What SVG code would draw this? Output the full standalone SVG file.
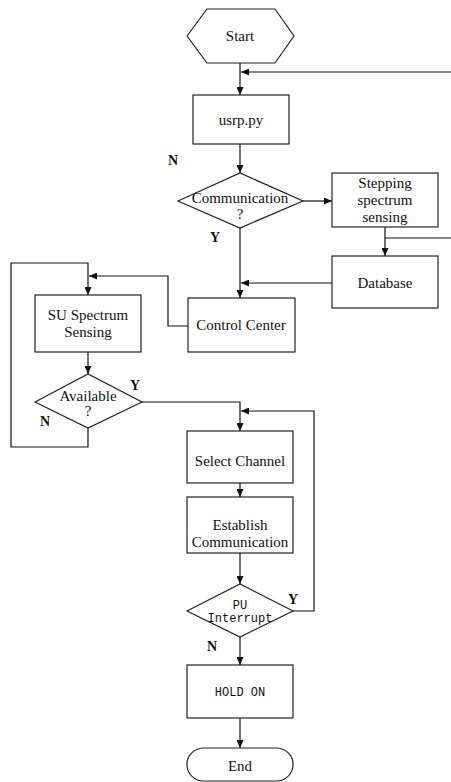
<svg xmlns="http://www.w3.org/2000/svg" width="451" height="782" viewBox="0 0 451 782">
<style>
.s{fill:#fff;stroke:#222;stroke-width:1.2}
.c{fill:none;stroke:#111;stroke-width:1.2}
.t{font-family:"Liberation Serif","Times New Roman",serif;font-size:15px;fill:#111;text-anchor:middle}
.m{font-family:"Liberation Mono","Courier New",monospace;font-size:12px;fill:#111;text-anchor:middle}
.l{font-family:"Liberation Serif","Times New Roman",serif;font-size:14px;font-weight:bold;fill:#111;text-anchor:middle}
</style>
<defs>
<marker id="a" markerWidth="8" markerHeight="7" refX="8" refY="3.5" orient="auto" markerUnits="userSpaceOnUse">
<path d="M0,0 L8,3.5 L0,7 z" fill="#111"/>
</marker>
</defs>
<rect width="451" height="782" fill="#fff"/>
<g id="connectors">
<path class="c" d="M240,63 V95" marker-end="url(#a)"/>
<path class="c" d="M451,72 H241" marker-end="url(#a)"/>
<path class="c" d="M240,144 V173" marker-end="url(#a)"/>
<path class="c" d="M303,201 H332" marker-end="url(#a)"/>
<path class="c" d="M385,227 V256" marker-end="url(#a)"/>
<path class="c" d="M385,238 H451"/>
<path class="c" d="M332,283 H241" marker-end="url(#a)"/>
<path class="c" d="M240,228 V298" marker-end="url(#a)"/>
<path class="c" d="M188,326 H168 V276 H89" marker-end="url(#a)"/>
<path class="c" d="M88,428 V447 H11 V263 H88 V295" marker-end="url(#a)"/>
<path class="c" d="M88,352 V374" marker-end="url(#a)"/>
<path class="c" d="M142,402 H240 V431" marker-end="url(#a)"/>
<path class="c" d="M240,483 V497" marker-end="url(#a)"/>
<path class="c" d="M240,553 V584" marker-end="url(#a)"/>
<path class="c" d="M293,611 H314 V411 H241" marker-end="url(#a)"/>
<path class="c" d="M240,637 V665" marker-end="url(#a)"/>
<path class="c" d="M240,718 V748" marker-end="url(#a)"/>
</g>
<g id="start">
<polygon class="s" points="187,36 207,9 275,9 294,36 275,63 207,63"/>
<text class="t" x="240" y="41">Start</text>
</g>
<g id="usrp">
<rect class="s" x="193" y="95" width="96" height="49"/>
<text class="t" x="241" y="125" font-size="14">usrp.py</text>
</g>
<g id="communication">
<polygon class="s" points="178,201 240,173 303,201 240,228"/>
<text class="t" x="240" y="203">Communication</text>
<text class="t" x="240" y="219" font-size="12">?</text>
</g>
<g id="stepping">
<rect class="s" x="332" y="173" width="106" height="54"/>
<text class="t" x="385" y="188">Stepping</text>
<text class="t" x="385" y="205">spectrum</text>
<text class="t" x="385" y="222">sensing</text>
</g>
<g id="database">
<rect class="s" x="332" y="256" width="106" height="52"/>
<text class="t" x="385" y="288">Database</text>
</g>
<g id="control">
<rect class="s" x="188" y="298" width="107" height="54"/>
<text class="t" x="241" y="330">Control Center</text>
</g>
<g id="su">
<rect class="s" x="35" y="295" width="106" height="57"/>
<text class="t" x="88" y="320">SU Spectrum</text>
<text class="t" x="88" y="337">Sensing</text>
</g>
<g id="available">
<polygon class="s" points="35,402 88,374 142,402 88,428"/>
<text class="t" x="88" y="401">Available</text>
<text class="t" x="88" y="416" font-size="12">?</text>
</g>
<g id="select">
<rect class="s" x="187" y="431" width="106" height="52"/>
<text class="t" x="240" y="466">Select Channel</text>
</g>
<g id="establish">
<rect class="s" x="187" y="497" width="106" height="56"/>
<text class="t" x="240" y="530">Establish</text>
<text class="t" x="240" y="547">Communication</text>
</g>
<g id="pu">
<polygon class="s" points="187,611 240,584 293,611 240,637"/>
<text class="m" x="240" y="609">PU</text>
<text class="m" x="240" y="622">Interrupt</text>
</g>
<g id="hold">
<rect class="s" x="187" y="665" width="106" height="53"/>
<text class="m" x="240" y="696" font-size="12.5">HOLD ON</text>
</g>
<g id="end">
<rect class="s" x="187" y="748" width="106" height="33" rx="17" ry="16"/>
<text class="t" x="240" y="771">End</text>
</g>
<g id="labels">
<text class="l" x="173" y="165">N</text>
<text class="l" x="215" y="242">Y</text>
<text class="l" x="135" y="390">Y</text>
<text class="l" x="45" y="426">N</text>
<text class="l" x="293" y="604">Y</text>
<text class="l" x="212" y="651">N</text>
</g>
</svg>
